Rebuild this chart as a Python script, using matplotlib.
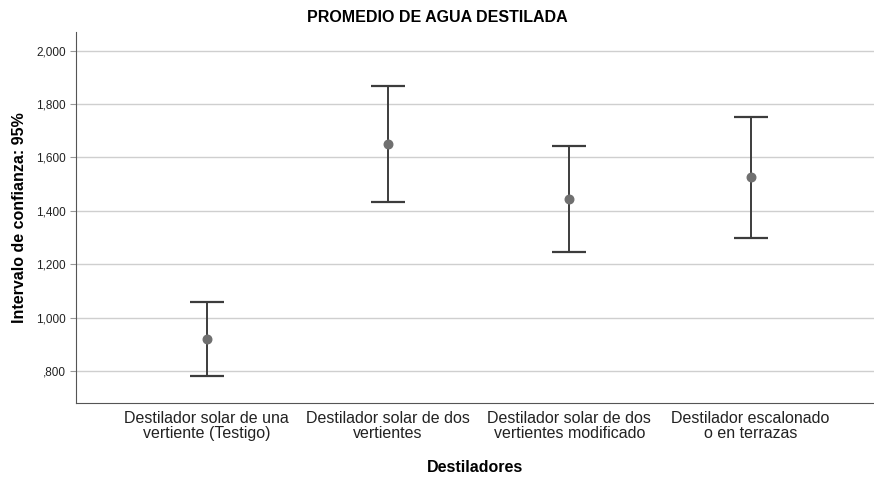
import numpy as np
import matplotlib
matplotlib.use("Agg")
import matplotlib.pyplot as plt
from matplotlib.ticker import FuncFormatter

categories = ["Destilador solar de una\nvertiente (Testigo)",
              "Destilador solar de dos\nvertientes",
              "Destilador solar de dos\nvertientes modificado",
              "Destilador escalonado\no en terrazas"]
means = [0.919, 1.650, 1.445, 1.527]
lower = [0.781, 1.434, 1.247, 1.299]
upper = [1.057, 1.866, 1.642, 1.750]
yticks = [0.8, 1.0, 1.2, 1.4, 1.6, 1.8, 2.0]

plt.rcParams["font.family"] = ["Liberation Sans", "DejaVu Sans"]

fig = plt.figure(figsize=(8.74, 4.78), dpi=100)
ax = fig.add_axes([76 / 874, 1 - 403 / 478, 798 / 874, 371 / 478])

x = np.arange(len(categories))
m = np.array(means)
err = np.vstack([m - np.array(lower), np.array(upper) - m])
ax.errorbar(x, m, yerr=err, fmt="none", ecolor="#3c3c3c", elinewidth=1.4,
            capsize=14.5 * 40 / 48, capthick=1.6, zorder=3)
ax.scatter(x, m, s=38, color="#707070", zorder=4)


def fmt(v, pos):
    # SPSS style: comma decimal, no leading zero
    s = f"{v:.3f}".replace(".", ",")
    return s[1:] if s.startswith("0") else s


ax.set_ylim(0.68, 2.07)
ax.set_xlim(-0.72, 3.68)
ax.set_yticks(yticks)
ax.yaxis.set_major_formatter(FuncFormatter(fmt))
ax.set_xticks(x)
ax.set_xticklabels(categories, fontsize=11.5, color="#222222", linespacing=0.95)
ax.tick_params(axis="y", labelsize=8.5, length=4, color="#999999", labelcolor="#222222")
ax.tick_params(axis="x", length=0, pad=6)
ax.grid(axis="y", color="#cfcfcf", lw=1.0)
ax.set_axisbelow(True)
for s in ["top", "right"]:
    ax.spines[s].set_visible(False)
for s in ["left", "bottom"]:
    ax.spines[s].set_color("#555555")

ax.set_ylabel("Intervalo de confianza: 95%", fontsize=11.5, fontweight="bold", labelpad=6)
ax.set_xlabel("Destiladores", fontsize=11.5, fontweight="bold", labelpad=14)
fig.text(0.5, 1 - 17 / 478, "PROMEDIO DE AGUA DESTILADA", ha="center", va="center",
         fontsize=11.5, fontweight="bold")

fig.savefig("out.png", dpi=100)
